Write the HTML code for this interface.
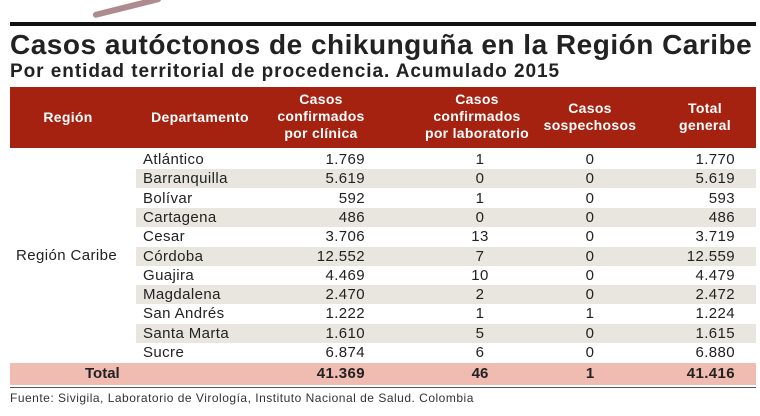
<!DOCTYPE html>
<html><head><meta charset="utf-8"><style>
body{margin:0;width:760px;height:416px;background:#fff;position:relative;overflow:hidden;font-family:"Liberation Sans",sans-serif;color:#222}
.a{position:absolute;white-space:nowrap}
.h{color:#fff;font-weight:bold;font-size:14px;text-align:center;line-height:17px;letter-spacing:0.3px}
.r{font-size:15px;line-height:19px;letter-spacing:0.4px}
</style></head><body>
<div class="a" style="left:92px;top:4px;width:70px;height:6px;background:#8a5a60;transform:rotate(-14deg);border-radius:3px;opacity:.7"></div>
<div class="a" style="left:10px;top:22px;width:746px;height:4px;background:#111"></div>
<div class="a" style="left:10px;top:29px;font-size:28px;font-weight:bold;color:#222;letter-spacing:0.5px">Casos autóctonos de chikunguña en la Región Caribe</div>
<div class="a" style="left:10px;top:61px;font-size:19px;font-weight:bold;color:#222;letter-spacing:0.95px">Por entidad territorial de procedencia. Acumulado 2015</div>
<div class="a" style="left:10px;top:87px;width:746px;height:61px;background:#a62210"></div>
<div class="a h" style="left:20px;top:109px;width:96px">Región</div>
<div class="a h" style="left:138px;top:109px;width:124px">Departamento</div>
<div class="a h" style="left:265px;top:91px;width:112px">Casos<br>confirmados<br>por clínica</div>
<div class="a h" style="left:402px;top:91px;width:150px">Casos<br>confirmados<br>por laboratorio</div>
<div class="a h" style="left:530px;top:100px;width:120px">Casos<br>sospechosos</div>
<div class="a h" style="left:660px;top:100px;width:90px">Total<br>general</div>
<div id="rows"></div>
<div class="a r" style="left:16px;top:246px">Región Caribe</div>
<div class="a" style="left:10px;top:363px;width:746px;height:22px;background:#f0bbb0"></div>
<div class="a" style="left:10px;top:387px;width:746px;height:1px;background:#555"></div>
<div class="a" style="left:85px;top:365px;font-size:15px;font-weight:bold">Total</div>
<div class="a" style="left:265px;top:365px;width:100px;text-align:right;font-size:15px;font-weight:bold;letter-spacing:0.4px">41.369</div>
<div class="a" style="left:430px;top:365px;width:100px;text-align:center;font-size:15px;font-weight:bold">46</div>
<div class="a" style="left:540px;top:365px;width:100px;text-align:center;font-size:15px;font-weight:bold">1</div>
<div class="a" style="left:635px;top:365px;width:100px;text-align:right;font-size:15px;font-weight:bold;letter-spacing:0.4px">41.416</div>
<div class="a" style="left:10px;top:391px;font-size:12px;color:#333;letter-spacing:0.5px">Fuente: Sivigila, Laboratorio de Virología, Instituto Nacional de Salud. Colombia</div>
<script>
var d=[["Atlántico","1.769","1","0","1.770"],["Barranquilla","5.619","0","0","5.619"],["Bolívar","592","1","0","593"],["Cartagena","486","0","0","486"],["Cesar","3.706","13","0","3.719"],["Córdoba","12.552","7","0","12.559"],["Guajira","4.469","10","0","4.479"],["Magdalena","2.470","2","0","2.472"],["San Andrés","1.222","1","1","1.224"],["Santa Marta","1.610","5","0","1.615"],["Sucre","6.874","6","0","6.880"]];
var h="";d.forEach(function(r,i){var t=150+i*19.3;
if(i%2)h+='<div class="a" style="left:136px;top:'+t+'px;width:620px;height:19px;background:#e8e6df"></div>';
h+='<div class="a r" style="left:143px;top:'+t+'px">'+r[0]+'</div>';
h+='<div class="a r" style="left:265px;top:'+t+'px;width:100px;text-align:right">'+r[1]+'</div>';
h+='<div class="a r" style="left:430px;top:'+t+'px;width:100px;text-align:center">'+r[2]+'</div>';
h+='<div class="a r" style="left:540px;top:'+t+'px;width:100px;text-align:center">'+r[3]+'</div>';
h+='<div class="a r" style="left:635px;top:'+t+'px;width:100px;text-align:right">'+r[4]+'</div>';});
document.getElementById("rows").innerHTML=h;
</script>
</body></html>
